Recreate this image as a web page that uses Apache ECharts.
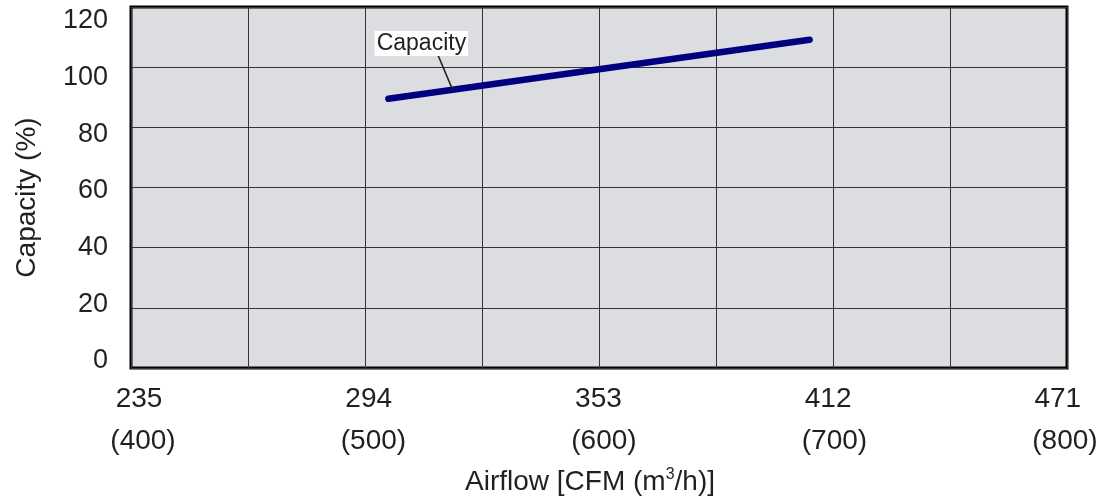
<!DOCTYPE html>
<html>
<head>
<meta charset="utf-8">
<script src="https://cdn.jsdelivr.net/npm/echarts@6/dist/echarts.min.js"></script>
<style>html,body{margin:0;padding:0;background:#fff;}#c{width:1104px;height:504px;}</style>
</head>
<body>
<div id="c"></div>
<script>
// Data
const airflowM3h = [510, 600, 690];
const capacityPct = [89.5, 99.3, 109.1];
const xTickM3h = [400, 500, 600, 700, 800];
const xTickCfm = ['235', '294', '353', '412', '471'];
const yTicks = [0, 20, 40, 60, 80, 100, 120];
const seriesName = 'Capacity';

const font = 'Liberation Sans, Arial, sans-serif';
const txt = '#231f20';
const chart = echarts.init(document.getElementById('c'));
const pts = airflowM3h.map((x, i) => [x, capacityPct[i]]);

const hidden = { axisLine: { show: false }, axisTick: { show: false }, splitLine: { show: false } };

chart.setOption({
  animation: false,
  backgroundColor: '#fff',
  grid: {
    left: 131, right: 37, top: 7, bottom: 136, outerBoundsMode: 'none', containLabel: false,
    show: true, backgroundColor: '#dcdde0', borderColor: '#000', borderWidth: 3
  },
  xAxis: [
    { // main scale with gridlines
      type: 'value', min: 400, max: 800, interval: 50, position: 'bottom',
      name: 'Airflow [CFM (m{sup|3}/h)]',
      nameLocation: 'middle', nameGap: 99,
      nameTextStyle: {
        color: txt, fontSize: 28, fontFamily: font, padding: [0, 18, 0, 0],
        rich: { sup: { fontSize: 16, verticalAlign: 'top', padding: [0, 0, 14, 0], color: txt, fontFamily: font } }
      },
      axisLine: { show: false }, axisTick: { show: false },
      splitLine: { show: true, lineStyle: { color: '#333', width: 1 } },
      axisLabel: { show: false }
    },
    Object.assign({ // CFM label row
      type: 'value', min: 396.5, max: 804.0, position: 'bottom',
      axisLabel: {
        color: txt, fontSize: 28, fontFamily: font, margin: 17,
        customValues: xTickM3h,
        formatter: function (v) { const i = xTickM3h.indexOf(v); return i < 0 ? '' : xTickCfm[i]; }
      }
    }, hidden),
    Object.assign({ // m3/h label row
      type: 'value', min: 394.8, max: 800.9, position: 'bottom',
      axisLabel: {
        color: txt, fontSize: 28, fontFamily: font, margin: 59,
        customValues: xTickM3h,
        formatter: function (v) { return '(' + v + ')'; }
      }
    }, hidden)
  ],
  yAxis: [
    {
      type: 'value', min: 0, max: 120, interval: 20,
      name: 'Capacity (%)', nameLocation: 'middle', nameGap: 90,
      nameTextStyle: { color: txt, fontSize: 28, fontFamily: font, padding: [0, 20, 0, 0] },
      axisLine: { show: false }, axisTick: { show: false },
      splitLine: { show: true, lineStyle: { color: '#333', width: 1 } },
      axisLabel: { show: false }
    },
    Object.assign({ // tick label column
      type: 'value', min: -2.5, max: 124.9, position: 'left',
      axisLabel: { color: txt, fontSize: 27, fontFamily: font, margin: 23, customValues: yTicks }
    }, hidden)
  ],
  series: [{
    name: seriesName, type: 'line', data: pts, xAxisIndex: 0, yAxisIndex: 0,
    symbol: 'none',
    lineStyle: { color: '#000080', width: 6.5, cap: 'round' }
  }]
});

// Series annotation label with leader line
const a = chart.convertToPixel({ xAxisIndex: 0, yAxisIndex: 0 }, [524.1, 107.9]);
const l0 = chart.convertToPixel({ xAxisIndex: 0, yAxisIndex: 0 }, [531.2, 104.0]);
const l1 = chart.convertToPixel({ xAxisIndex: 0, yAxisIndex: 0 }, [537.6, 92.2]);
chart.setOption({
  graphic: [
    { type: 'line', shape: { x1: l0[0], y1: l0[1], x2: l1[0], y2: l1[1] }, style: { stroke: txt, lineWidth: 1.5 }, z: 10 },
    { type: 'text', x: a[0], y: a[1], z: 11,
      style: { text: seriesName, fill: txt, font: '23px ' + font, align: 'center', verticalAlign: 'middle',
               backgroundColor: '#fff', padding: [1, 2, 1, 2] } }
  ]
});
</script>
</body>
</html>
